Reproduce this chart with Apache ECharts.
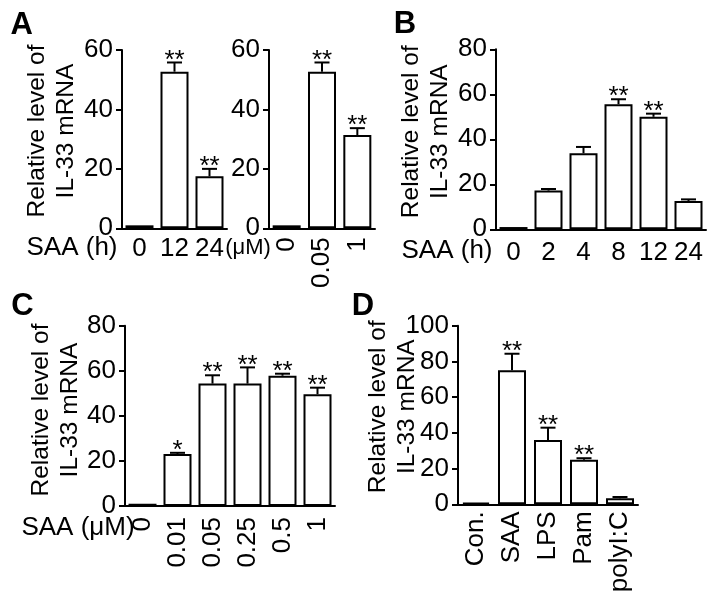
<!DOCTYPE html>
<html><head><meta charset="utf-8">
<script src="https://cdn.jsdelivr.net/npm/echarts@6/dist/echarts.min.js"></script>
<style>html,body{margin:0;padding:0;background:#fff}#c{width:715px;height:597px}</style>
</head><body><div id="c"></div><script>
// ---- data ----
const catsA1 = ['0', '12', '24'];
const valsA1 = [1, 52.7, 17.5];
const errA1 = [0, 3.1, 2.5];
const sigA1 = ['', '**', '**'];

const catsA2 = ['0', '0.05', '1'];
const valsA2 = [1, 52.7, 31.4];
const errA2 = [0, 3.1, 2.3];
const sigA2 = ['', '**', '**'];

const catsB = ['0', '2', '4', '8', '12', '24'];
const valsB = [1, 17.2, 33.8, 55.6, 50, 12.6];
const errB = [0, 0.7, 2.8, 2.2, 1.4, 0.7];
const sigB = ['', '', '', '**', '**', ''];

const catsC = ['0', '0.01', '0.05', '0.25', '0.5', '1'];
const valsC = [1, 23.1, 54.3, 54.3, 57.8, 49.6];
const errC = [0, 0.5, 3.7, 7.2, 0.9, 2.9];
const sigC = ['', '*', '**', '**', '**', '**'];

const catsD = ['Con.', 'SAA', 'LPS', 'Pam', 'polyI:C'];
const valsD = [1, 75, 36, 25, 3.4];
const errD = [0, 9.3, 6.9, 0.8, 0.7];
const sigD = ['', '**', '**', '**', ''];

const yTicksA = { max: 60, interval: 20 };
const yTicksB = { max: 80, interval: 20 };
const yTicksC = { max: 80, interval: 20 };
const yTicksD = { max: 100, interval: 20 };

const yName = 'Relative level of\nIL-33 mRNA';

// ---- layout ----
const FONT = "'Liberation Sans', Arial, sans-serif";
const panels = [
  { cats: catsA1, vals: valsA1, err: errA1, sig: sigA1, y: yTicksA, grid: { left: 122, top: 50, width: 105, height: 178.3 }, rotate: 0, margin: 8 },
  { cats: catsA2, vals: valsA2, err: errA2, sig: sigA2, y: yTicksA, grid: { left: 269, top: 50, width: 106, height: 178.3 }, rotate: 90, margin: 9 },
  { cats: catsB, vals: valsB, err: errB, sig: sigB, y: yTicksB, grid: { left: 496, top: 49.3, width: 210, height: 180 }, rotate: 0, margin: 11 },
  { cats: catsC, vals: valsC, err: errC, sig: sigC, y: yTicksC, grid: { left: 125, top: 325.7, width: 210, height: 180.3 }, rotate: 90, margin: 11 },
  { cats: catsD, vals: valsD, err: errD, sig: sigD, y: yTicksD, grid: { left: 458, top: 325.7, width: 180, height: 178.6 }, rotate: 90, margin: 7 }
];

const grid = [], xAxis = [], yAxis = [], series = [];
const lineStyle = { color: '#000', width: 2 };
panels.forEach((p, k) => {
  grid.push(Object.assign({ containLabel: false }, p.grid));
  xAxis.push({
    type: 'category', gridIndex: k, data: p.cats,
    axisLine: { lineStyle }, axisTick: { alignWithLabel: true, length: 5, lineStyle },
    axisLabel: { color: '#000', fontSize: 26, fontFamily: FONT, rotate: p.rotate, margin: p.margin, interval: 0 }
  });
  yAxis.push({
    type: 'value', gridIndex: k, min: 0, max: p.y.max, interval: p.y.interval,
    axisLine: { show: true, lineStyle }, axisTick: { show: true, length: 6, lineStyle },
    splitLine: { show: false },
    axisLabel: { color: '#000', fontSize: 26, fontFamily: FONT, margin: 9 }
  });
  series.push({
    type: 'bar', xAxisIndex: k, yAxisIndex: k, data: p.vals, barWidth: 28,
    itemStyle: { color: '#fff', borderColor: '#000', borderWidth: 2 }, silent: true
  });
  series.push({
    type: 'custom', xAxisIndex: k, yAxisIndex: k, z: 5, silent: true,
    data: p.vals.map((v, i) => [i, v, p.err[i]]),
    encode: { x: 0, y: 1 },
    renderItem: (params, api) => {
      const i = api.value(0), v = api.value(1), e = api.value(2);
      const s = p.sig[params.dataIndex];
      const base = api.coord([i, v]);
      const top = api.coord([i, v + e]);
      const ch = [];
      if (e > 0) {
        ch.push({ type: 'line', shape: { x1: base[0], y1: base[1], x2: top[0], y2: top[1] }, style: { stroke: '#000', lineWidth: 2 } });
        ch.push({ type: 'line', shape: { x1: top[0] - 7.5, y1: top[1], x2: top[0] + 7.5, y2: top[1] }, style: { stroke: '#000', lineWidth: 2 } });
      }
      if (s) {
        ch.push({ type: 'text', x: top[0], y: top[1] - 2, style: { text: s, fill: '#000', fontSize: 26, fontFamily: FONT, align: 'center', verticalAlign: 'middle' } });
      }
      return { type: 'group', children: ch };
    }
  });
});

function txt(x, y, text, size, extra) {
  return Object.assign({ type: 'text', x, y, style: Object.assign({ text, fill: '#000', fontSize: size, fontFamily: FONT, align: 'center', verticalAlign: 'middle' }, extra || {}) });
}
function rtxt(x, y, text) {
  const t = txt(x, y, text, 24.5, { lineHeight: 29 });
  t.rotation = Math.PI / 2;
  return t;
}

const graphic = [
  txt(21.8, 25, 'A', 31, { fontWeight: 'bold' }),
  txt(405, 24.2, 'B', 31, { fontWeight: 'bold' }),
  txt(22.5, 306, 'C', 31, { fontWeight: 'bold' }),
  txt(363, 306, 'D', 31, { fontWeight: 'bold' }),
  rtxt(51.7, 131, yName),
  rtxt(425.8, 131.7, yName),
  rtxt(56.2, 410, yName),
  rtxt(392.5, 406.7, yName),
  txt(72, 248, 'SAA (h)', 26),
  txt(248, 248, '(μM)', 22),
  txt(447, 251, 'SAA (h)', 26),
  txt(78, 528, 'SAA (μM)', 26)
];

const chart = echarts.init(document.getElementById('c'), null, { renderer: 'canvas' });
chart.setOption({ animation: false, backgroundColor: '#fff', grid, xAxis, yAxis, series, graphic });
</script></body></html>
